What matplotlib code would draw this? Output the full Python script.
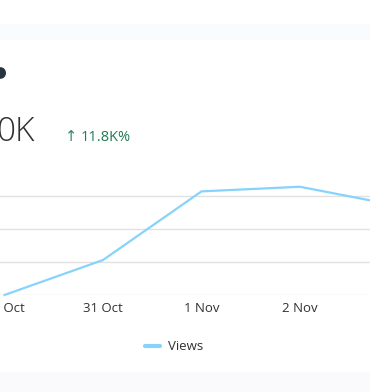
import numpy as np
import matplotlib.pyplot as plt
from matplotlib.patches import Rectangle, Circle
from matplotlib.lines import Line2D

W, H = 370, 392

dates = ['30 Oct', '31 Oct', '1 Nov', '2 Nov', '3 Nov']
views = [0, 530, 1570, 1640, 1350]
grid_vals = [0, 500, 1000, 1500]


def fx(x):
    return x / W


def fy(y):
    return 1 - y / H


fig = plt.figure(figsize=(W / 100, H / 100), dpi=100)
fig.patch.set_facecolor('white')

# page background around the card
fig.patches.append(Rectangle((0, fy(40)), 1, fy(24) - fy(40), transform=fig.transFigure,
                             facecolor='#fafbfd', edgecolor='none', zorder=0))
fig.patches.append(Rectangle((0, 0), 1, fy(372), transform=fig.transFigure,
                             facecolor='#fafafd', edgecolor='none', zorder=0))

# status dot, half off the left edge
fig.patches.append(Circle((fx(0.5), fy(73)), 5.5 / W, transform=fig.transFigure,
                          facecolor='#26343f', edgecolor='none'))

fig.text(fx(34), fy(141), '0K', ha='right', va='baseline', fontsize=24,
         family=['Open Sans', 'DejaVu Sans'], fontweight='light', color='#323130')
fig.text(fx(65), fy(141), '\u2191', ha='left', va='baseline', fontsize=10.5,
         family=['DejaVu Sans'], color='#2e8b63')
fig.text(fx(81), fy(141), '11.8K%', ha='left', va='baseline', fontsize=10.5,
         family=['Open Sans', 'DejaVu Sans'], color='#1f7a55')

# chart area
top_px, bot_px = 175, 295
ax = fig.add_axes([0, fy(bot_px), 1, fy(top_px) - fy(bot_px)])
ax.set_facecolor('none')
x = np.arange(len(dates))
step = 98.5
for g in grid_vals:
    ax.axhline(g, color='#e1e1e1', lw=1, zorder=1)
ax.plot(x, views, color='#86d3fb', lw=1.6, zorder=3, clip_on=False, solid_joinstyle='miter')
ax.set_xticks(x)
ax.set_xticklabels(dates, fontsize=9.5, color='#323130', family=['Open Sans', 'DejaVu Sans'])
ax.tick_params(axis='x', length=0, pad=5)
ax.set_yticks([])
ax.set_xlim(-4.5 / step, (W - 4.5) / step)
ax.set_ylim(0, (bot_px - top_px) / 33 * 500)
for s in ax.spines.values():
    s.set_visible(False)

# legend
fig.lines.append(Line2D([fx(145), fx(160)], [fy(346), fy(346)], transform=fig.transFigure,
                        color='#86d3fb', lw=3, solid_capstyle='round'))
fig.text(fx(168), fy(346), 'Views', ha='left', va='center', fontsize=9.5,
         family=['Open Sans', 'DejaVu Sans'], color='#323130')

fig.savefig('out.png', dpi=100, facecolor=fig.get_facecolor())
